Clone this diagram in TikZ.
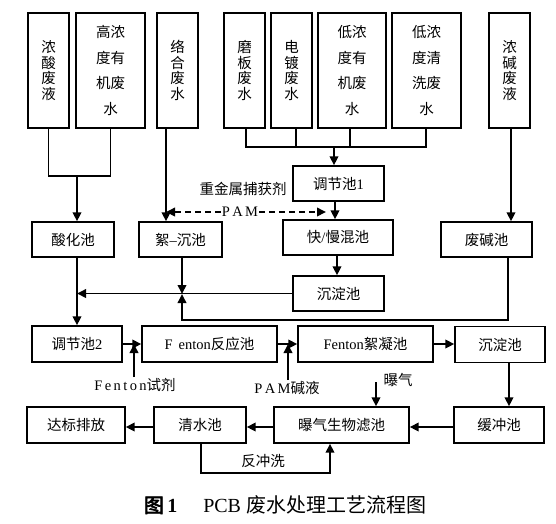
\documentclass[tikz,border=0pt]{standalone}
\usepackage{fontspec}
\setmainfont{Liberation Serif}
\newfontfamily\cjk{Noto Sans CJK SC}
\newfontfamily\cjkb[FakeBold=3]{Noto Sans CJK SC}
\usetikzlibrary{arrows.meta}
\tikzset{
  box/.style={draw, line width=1.4pt, inner sep=0pt, align=center, font=\cjk\fontsize{14.5}{15}\selectfont},
  vone/.style={box, minimum width=41pt, minimum height=115pt, font=\cjk\fontsize{14.5}{15.5}\selectfont},
  vtwo/.style={box, minimum width=69pt, minimum height=115pt, font=\cjk\fontsize{14.5}{25.5}\selectfont},
  pool/.style={box, minimum height=35pt},
  lbl/.style={inner sep=1pt, font=\cjk\fontsize{14.5}{15}\selectfont},
  ln/.style={line width=1.9pt},
  arr/.style={line width=1.9pt, -{Triangle[length=9pt,width=8.5pt]}},
  darr/.style={line width=1.9pt, dash pattern=on 6pt off 4pt, -{Triangle[length=9pt,width=8.5pt]}}
}
\begin{document}
\begin{tikzpicture}[x=1pt,y=-1pt]
\useasboundingbox[fill=white] (0,0) rectangle (556,523);
% top sources
\node[vone] (acid) at (48.5,70.5) {浓\\酸\\废\\液};
\node[vtwo] (hio) at (110.5,70.5) {高浓\\度有\\机废\\水};
\node[vone] (complex) at (177.5,70.5) {络\\合\\废\\水};
\node[vone] (grind) at (244.5,70.5) {磨\\板\\废\\水};
\node[vone] (plate) at (291.5,70.5) {电\\镀\\废\\水};
\node[vtwo, minimum width=68pt] (loorg) at (352,70.5) {低浓\\度有\\机废\\水};
\node[vtwo] (lowash) at (426.5,70.5) {低浓\\度清\\洗废\\水};
\node[vone] (alkali) at (509.5,70.5) {浓\\碱\\废\\液};
% row 2
\node[pool, minimum width=91pt] (tj1) at (338.5,183.5) {调节池{\rmfamily 1}};
\node[pool, minimum width=82pt] (acidpool) at (73,239.5) {酸化池};
\node[pool, minimum width=83pt] (floc) at (180.5,239.5) {絮{\rmfamily –}沉池};
\node[pool, minimum width=110pt] (mix) at (338,237.5) {快{\rmfamily /}慢混池};
\node[pool, minimum width=91pt] (alkpool) at (486.5,239.5) {废碱池};
\node[pool, minimum width=91pt] (sed1) at (338.5,293.5) {沉淀池};
% row 3
\node[pool, minimum height=36pt, minimum width=90pt] (tj2) at (77,344) {调节池{\rmfamily 2}};
\node[pool, minimum height=36pt, minimum width=135pt] (fr) at (209.5,344) {{\rmfamily F\, enton}反应池};
\node[pool, minimum height=36pt, minimum width=135pt] (ff) at (365.5,344) {{\rmfamily Fenton}絮凝池};
\node[pool, minimum height=36pt, minimum width=90pt] (sed2) at (500,344.5) {沉淀池};
% row 4
\node[pool, minimum height=36pt, minimum width=98pt] (dis) at (76,425) {达标排放};
\node[pool, minimum height=36pt, minimum width=92pt] (clean) at (200,425) {清水池};
\node[pool, minimum height=36pt, minimum width=135pt] (bio) at (341.5,425) {曝气生物滤池};
\node[pool, minimum height=36pt, minimum width=90pt] (buf) at (499,425) {缓冲池};
% labels
\node[lbl] (hm) at (243,189) {重金属捕获剂};
\node[lbl] (pam) at (240,212) {\rmfamily P\,A\,M};
\node[lbl] (fs) at (135,385) {{\rmfamily F\,e\,n\,t\,o\,n}试剂};
\node[lbl] (pj) at (287,388) {{\rmfamily P\,A\,M}碱液};
\node[lbl] (aer) at (398,380) {曝气};
\node[lbl] (bwl) at (263,461) {反冲洗};
\node[inner sep=0pt, font=\fontsize{20}{22}\selectfont] (cap) at (285,505) {{\cjkb 图}\,{\bfseries 1}\hspace{1.3em}PCB {\cjk 废水处理工艺流程图}};
% coordinates
\coordinate (j1) at (77,176);
\coordinate (j2) at (334,147);
\coordinate (fl) at (166,128);
\coordinate (pamR) at (326,212);
\coordinate (j3) at (182,294);
\coordinate (j4) at (77,294);
\coordinate (b1) at (182,320);
\coordinate (aerT) at (376,382);
\coordinate (bw1) at (201,473);
\coordinate (bw2) at (330,473);
% connectors top-left
\draw[ln] (acid.south) |- (hio.south |- j1) -- (hio.south);
\draw[arr] (j1) -- (j1 |- acidpool.north);
\draw[arr] (fl) -- (fl |- floc.north);
% top-right
\draw[ln] ([xshift=1.5pt]grind.south) |- ([xshift=-0.5pt]lowash.south |- j2) -- ([xshift=-0.5pt]lowash.south);
\draw[ln] ([xshift=4.5pt]plate.south) -- ([xshift=4.5pt]plate.south |- j2);
\draw[ln] ([xshift=-2pt]loorg.south) -- ([xshift=-2pt]loorg.south |- j2);
\draw[arr] (j2) -- (j2 |- tj1.north);
\draw[arr] ([xshift=-3.5pt]tj1.south) -- ([xshift=-3.5pt]tj1.south |- mix.north);
\draw[arr] ([xshift=-1pt]mix.south) -- ([xshift=-1pt]mix.south |- sed1.north);
% PAM dashed
\draw[darr] (pam.west) -- (pam.west -| fl);
\draw[darr] (pam.east) -- (pamR);
% alkali
\draw[arr] ([xshift=1.5pt]alkali.south) -- ([xshift=1.5pt]alkali.south |- alkpool.north);
\draw[arr] ([xshift=21.5pt]alkpool.south) |- (b1) -- (j3);
\draw[arr] ([xshift=1.5pt]floc.south) -- (j3);
\draw[arr] (sed1.west) -- (sed1.west -| j4);
\draw[arr] ([xshift=4pt]acidpool.south) -- ([xshift=4pt]acidpool.south |- tj2.north);
% row 3
\draw[arr] (tj2.east) -- (fr.west);
\draw[arr] ([xshift=-1pt]fs.north) -- ([xshift=-1pt]fs.north |- tj2.east);
\draw[arr] (fr.east) -- (fr.east -| ff.west);
\draw[arr] ([xshift=1pt]pj.north) -- ([xshift=1pt]pj.north |- fr.east);
\draw[arr] (ff.east) -- (ff.east -| sed2.west);
\draw[arr] ([xshift=9pt]sed2.south) -- ([xshift=9pt]sed2.south |- buf.north);
% row 4
\draw[arr] ([yshift=-2pt]buf.west) -- ([yshift=-2pt]buf.west -| bio.east);
\draw[arr] (aerT) -- (aerT |- bio.north);
\draw[arr] ([yshift=-2pt]bio.west) -- ([yshift=-2pt]bio.west -| clean.east);
\draw[arr] ([yshift=-2pt]clean.west) -- ([yshift=-2pt]clean.west -| dis.east);
\draw[arr] (bw1 |- clean.south) -- (bw1) -- (bw2) -- (bw2 |- bio.south);
\end{tikzpicture}
\end{document}
